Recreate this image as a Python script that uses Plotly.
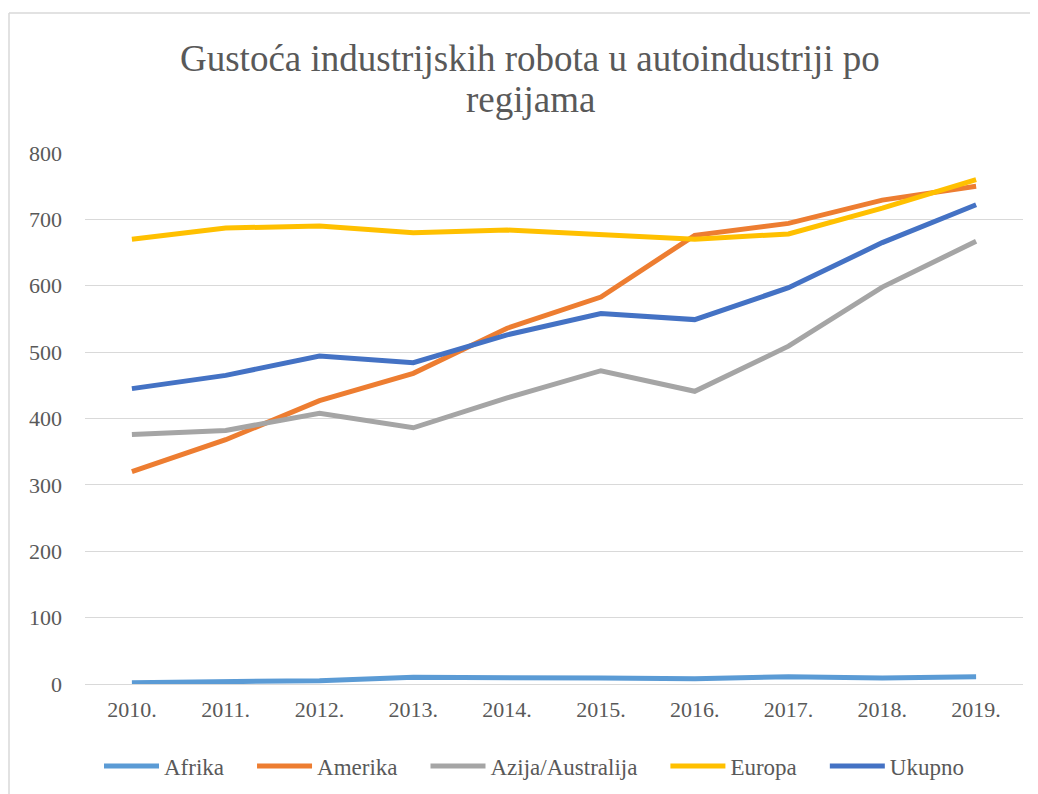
import plotly.graph_objects as go

years = ["2010.", "2011.", "2012.", "2013.", "2014.", "2015.", "2016.", "2017.", "2018.", "2019."]
afrika = [2, 3, 5, 10, 10, 9, 8, 11, 9, 11]
amerika = [320, 368, 427, 468, 536, 583, 676, 694, 729, 750]
azija = [376, 382, 408, 386, 431, 472, 441, 509, 598, 667]
europa = [670, 687, 690, 680, 684, 677, 670, 678, 717, 760]
ukupno = [445, 465, 494, 484, 526, 558, 549, 597, 665, 722]

series = [
    ("Afrika", afrika, "#5B9BD5"),
    ("Amerika", amerika, "#ED7D31"),
    ("Azija/Australija", azija, "#A5A5A5"),
    ("Europa", europa, "#FFC000"),
    ("Ukupno", ukupno, "#4472C4"),
]

ff = "Times New Roman, Liberation Serif, serif"
gray = "#595959"

fig = go.Figure()
for i, (name, vals, color) in enumerate(series):
    # pad legend entries with non-breaking spaces to get Excel-like gaps
    pad = "\u00a0" * 4 if i < len(series) - 1 else ""
    fig.add_trace(go.Scatter(
        x=years, y=vals, name=name + pad, mode="lines",
        line=dict(color=color, width=5),
    ))

# page body has an 8px margin, so the figure is offset by (8, 8)
fig.update_layout(
    width=1030, height=786,
    paper_bgcolor="white", plot_bgcolor="white",
    margin=dict(l=77, r=15, t=145, b=110, autoexpand=False),
    font=dict(family=ff, color=gray, size=22),
    showlegend=True,
    legend=dict(
        orientation="h", x=(534 - 85) / 938, xanchor="center",
        y=(684 - 766) / 531, yanchor="middle",
        font=dict(family=ff, size=23, color=gray),
        traceorder="normal", itemwidth=55,
    ),
)

# title as two lines (tighter line spacing than plotly's default)
title_lines = ["Gustoća industrijskih robota u autoindustriji po", "regijama"]
for txt, sy in zip(title_lines, [59, 99]):
    fig.add_annotation(
        text=txt, xref="paper", yref="paper",
        x=(530 - 85) / 938, y=(684 - sy) / 531,
        xanchor="center", yanchor="middle", showarrow=False,
        font=dict(family=ff, size=37, color=gray),
    )

fig.update_xaxes(
    type="category", range=[-0.5, 9.5], showgrid=False, showline=False,
    ticks="", ticklabelstandoff=10, tickfont=dict(family=ff, size=22, color=gray),
)
fig.update_yaxes(
    range=[0, 800], dtick=100, showgrid=True, gridcolor="#D9D9D9", gridwidth=1,
    zeroline=True, zerolinecolor="#D9D9D9", zerolinewidth=1, showline=False,
    ticks="", ticklabelstandoff=22, tickfont=dict(family=ff, size=22, color=gray),
)

# chart border (light gray frame as in the original)
x0 = (9 - 85) / 938
x1 = (1045 - 85) / 938
ytop = (684 - 13) / 531
ybot = (684 - 800) / 531
fig.add_shape(type="line", xref="paper", yref="paper", x0=x0, x1=x1, y0=ytop, y1=ytop,
              line=dict(color="#D9D9D9", width=1.5))
fig.add_shape(type="line", xref="paper", yref="paper", x0=x0, x1=x0, y0=ytop, y1=ybot,
              line=dict(color="#D9D9D9", width=1.5))

fig.write_html("out.html")
